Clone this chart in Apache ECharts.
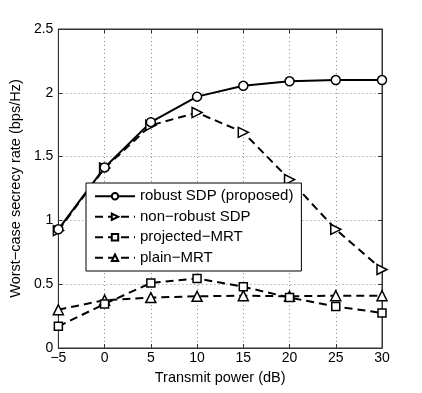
<!DOCTYPE html>
<html>
<head>
<meta charset="utf-8">
<script src="https://cdn.jsdelivr.net/npm/echarts@6/dist/echarts.min.js"></script>
<style>
  html, body { margin: 0; padding: 0; background: #fff; }
  #chart { width: 422px; height: 393px; }
</style>
</head>
<body>
<div id="chart"></div>
<script>
var powerDb = [-5, 0, 5, 10, 15, 20, 25, 30]
var robustSdp = [0.93, 1.415, 1.77, 1.97, 2.055, 2.09, 2.10, 2.10]
var nonRobustSdp = [0.92, 1.41, 1.745, 1.845, 1.69, 1.32, 0.93, 0.615]
var projectedMrt = [0.17, 0.345, 0.51, 0.545, 0.48, 0.395, 0.325, 0.275]
var plainMrt = [0.30, 0.375, 0.395, 0.405, 0.41, 0.405, 0.41, 0.41]

var FONT = 'Liberation Sans, Arial, sans-serif'
var minus = function(v) { return String(v).replace('-', '\u2212') }

function pairs(ys) {
  return powerDb.map(function(x, i) { return [x, ys[i]] })
}

function makeSeries(name, ys, symbol, size, dashed, rotate) {
  return {
    name: name,
    type: 'line',
    data: pairs(ys),
    symbol: symbol,
    symbolSize: size,
    symbolRotate: rotate || 0,
    showAllSymbol: true,
    lineStyle: { color: '#000', width: 2, type: dashed ? [8, 5] : 'solid' },
    itemStyle: { color: '#fff', borderColor: '#000', borderWidth: 1.5 },
    emphasis: { disabled: true },
    animation: false
  }
}

var chart = echarts.init(document.getElementById('chart'))
var gridLine = { show: true, lineStyle: { color: '#888', type: [1, 3], width: 1 } }
var frame = { onZero: false, lineStyle: { color: '#333' } }
var tick = { show: true, inside: true, length: 4, lineStyle: { color: '#333' } }

chart.setOption({
  backgroundColor: '#fff',
  textStyle: { fontFamily: FONT },
  grid: { left: 55, right: 40, top: 29, bottom: 45, show: true, borderColor: '#333', borderWidth: 1 },
  legend: {
    orient: 'vertical',
    left: 86,
    top: 183,
    padding: [5, 8, 5, 8],
    itemWidth: 40,
    itemHeight: 8,
    itemGap: 4,
    borderColor: '#000',
    borderWidth: 1,
    backgroundColor: '#fff',
    textStyle: { fontFamily: FONT, fontSize: 15, color: '#000', lineHeight: 16.5 },
    data: ['robust SDP (proposed)', 'non\u2212robust SDP', 'projected\u2212MRT', 'plain\u2212MRT']
  },
  xAxis: [{
    type: 'value', min: -5, max: 30, interval: 5,
    name: 'Transmit power (dB)', nameLocation: 'middle', nameGap: 22,
    nameTextStyle: { fontSize: 14.5, color: '#000', fontFamily: FONT },
    axisLine: frame,
    axisTick: tick,
    axisLabel: { fontSize: 14, color: '#000', margin: 3, formatter: minus },
    splitLine: gridLine
  }, {
    type: 'value', min: -5, max: 30, interval: 5, position: 'top',
    axisLine: frame, axisTick: tick,
    axisLabel: { show: false }, splitLine: { show: false }
  }],
  yAxis: [{
    type: 'value', min: 0, max: 2.5, interval: 0.5,
    name: 'Worst\u2212case secrecy rate (bps/Hz)', nameLocation: 'middle', nameGap: 23,
    nameTextStyle: { fontSize: 14.5, color: '#000', fontFamily: FONT },
    axisLine: Object.assign({ show: true }, frame),
    axisTick: tick,
    axisLabel: { fontSize: 14, color: '#000', margin: 5 },
    splitLine: gridLine
  }, {
    type: 'value', min: 0, max: 2.5, interval: 0.5, position: 'right',
    axisLine: Object.assign({ show: true }, frame), axisTick: tick,
    axisLabel: { show: false }, splitLine: { show: false }
  }],
  series: [
    makeSeries('plain\u2212MRT', plainMrt, 'triangle', 10, true),
    makeSeries('projected\u2212MRT', projectedMrt, 'rect', 8, true),
    makeSeries('non\u2212robust SDP', nonRobustSdp, 'triangle', 10, true, -90),
    makeSeries('robust SDP (proposed)', robustSdp, 'circle', 9, false)
  ]
})
</script>
</body>
</html>
